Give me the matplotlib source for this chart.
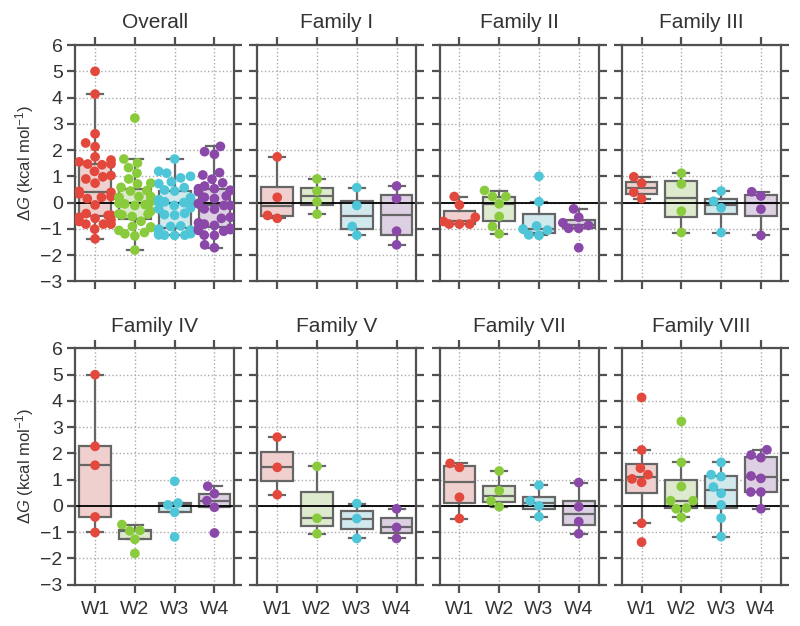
import matplotlib
matplotlib.use('Agg')
import matplotlib.pyplot as plt
import matplotlib.colors as mcolors
import seaborn as sns

plt.rcParams['font.family'] = ['Liberation Sans', 'DejaVu Sans']
plt.rcParams['mathtext.fontset'] = 'custom'
plt.rcParams['mathtext.rm'] = 'Liberation Sans'
plt.rcParams['mathtext.it'] = 'Liberation Sans:italic'

# Delta G values (kcal/mol) per family, one list per water site W1..W4
waters = ['W1', 'W2', 'W3', 'W4']
family_I = [[1.74, 0.20, -0.49, -0.60],
            [0.90, 0.44, 0.03, -0.44],
            [0.57, -0.11, -0.91, -1.24],
            [0.63, 0.15, -1.09, -1.61]]
family_II = [[0.23, -0.09, -0.56, -0.72, -0.82, -0.82, -0.82],
             [0.46, 0.23, 0.23, -0.05, -0.53, -0.91, -1.19],
             [1.00, 0.03, -0.89, -1.01, -1.05, -1.23, -1.25],
             [-0.24, -0.56, -0.77, -0.87, -0.98, -0.98, -1.72]]
family_III = [[0.98, 0.74, 0.39, 0.15],
              [1.12, 0.71, -0.33, -1.14],
              [0.44, 0.05, -0.20, -1.14],
              [0.41, 0.25, -0.25, -1.25]]
family_IV = [[5.00, 2.27, 1.55, -0.42, -1.01],
             [-0.71, -0.93, -0.95, -1.27, -1.81],
             [0.94, 0.11, 0.04, -0.24, -1.18],
             [0.75, 0.47, 0.20, -0.05, -1.03]]
family_V = [[2.62, 1.47, 0.43],
            [1.51, -0.47, -1.06],
            [0.09, -0.48, -1.24],
            [-0.11, -0.82, -1.24]]
family_VII = [[1.62, 1.47, 0.33, -0.48],
              [1.33, 0.58, 0.19, -0.03],
              [0.79, 0.19, 0.00, -0.41],
              [0.89, -0.03, -0.60, -1.06]]
family_VIII = [[4.13, 2.13, 1.44, 1.19, 1.03, 0.90, -0.66, -1.38],
               [3.22, 1.66, 0.74, 0.20, 0.20, -0.08, -0.11, -0.43],
               [1.66, 1.19, 1.12, 0.72, 0.48, 0.04, -0.46, -1.17],
               [2.14, 1.94, 1.84, 1.14, 1.05, 0.53, 0.53, -0.11]]

families = [family_I, family_II, family_III, family_IV, family_V, family_VII, family_VIII]
titles = ['Overall', 'Family I', 'Family II', 'Family III',
          'Family IV', 'Family V', 'Family VII', 'Family VIII']

# overall = all families pooled
overall = [[v for fam in families for v in fam[i]] for i in range(4)]
panels = [overall] + families

colors = ['#e2483c', '#8acb3e', '#4ec6d8', '#8a48a8']
edge = '#666666'

fig, axes = plt.subplots(2, 4, figsize=(8, 6.26), dpi=100)
fig.subplots_adjust(left=0.094, right=0.976, top=0.928, bottom=0.066,
                    wspace=0.145, hspace=0.284)

for k, ax in enumerate(axes.flat):
    data = panels[k]
    bp = ax.boxplot(data, positions=range(4), widths=0.8, patch_artist=True,
                    showfliers=False, whis=1.5, zorder=2,
                    boxprops=dict(edgecolor=edge, linewidth=1.6),
                    medianprops=dict(color=edge, linewidth=1.6),
                    whiskerprops=dict(color=edge, linewidth=1.6),
                    capprops=dict(color=edge, linewidth=1.6))
    for patch, c in zip(bp['boxes'], colors):
        # light tint of the point colour
        rgb = mcolors.to_rgb(c)
        patch.set_facecolor([0.95 - 0.2 * (0.95 - ch) for ch in rgb])
    ax.axhline(0, color='black', linewidth=1.3, zorder=2.5)

    xs, ys = [], []
    for i, vals in enumerate(data):
        xs += [waters[i]] * len(vals)
        ys += vals
    sns.swarmplot(x=xs, y=ys, order=waters, hue=xs, hue_order=waters,
                  palette=colors, size=7, legend=False, ax=ax, zorder=3)

    ax.set_xlim(-0.5, 3.5)
    ax.set_ylim(-3, 6)
    ax.set_yticks(range(-3, 7))
    ax.set_xticks(range(4))
    ax.set_xticklabels(waters)
    ax.set_xlabel('')
    ax.grid(True, linestyle=':', color='#aaaaaa', linewidth=1.0)
    ax.set_axisbelow(True)
    for sp in ax.spines.values():
        sp.set_color('#505050')
        sp.set_linewidth(1.6)
    ax.tick_params(direction='out', length=6, width=1.6, color='#505050',
                   top=True, right=True, labelsize=14, labelcolor='#333333', pad=3)
    ax.tick_params(axis='x', pad=6)
    row, col = divmod(k, 4)
    if row == 0:
        ax.tick_params(labelbottom=False)
    if col > 0:
        ax.tick_params(labelleft=False)
    else:
        ax.set_ylabel(r'$\mathit{\Delta G}$ (kcal mol$^{-1}$)', fontsize=12,
                      color='#333333', labelpad=3)
    ax.set_title(titles[k], fontsize=15, color='#333333', pad=12)

fig.savefig('out.png', dpi=100)
